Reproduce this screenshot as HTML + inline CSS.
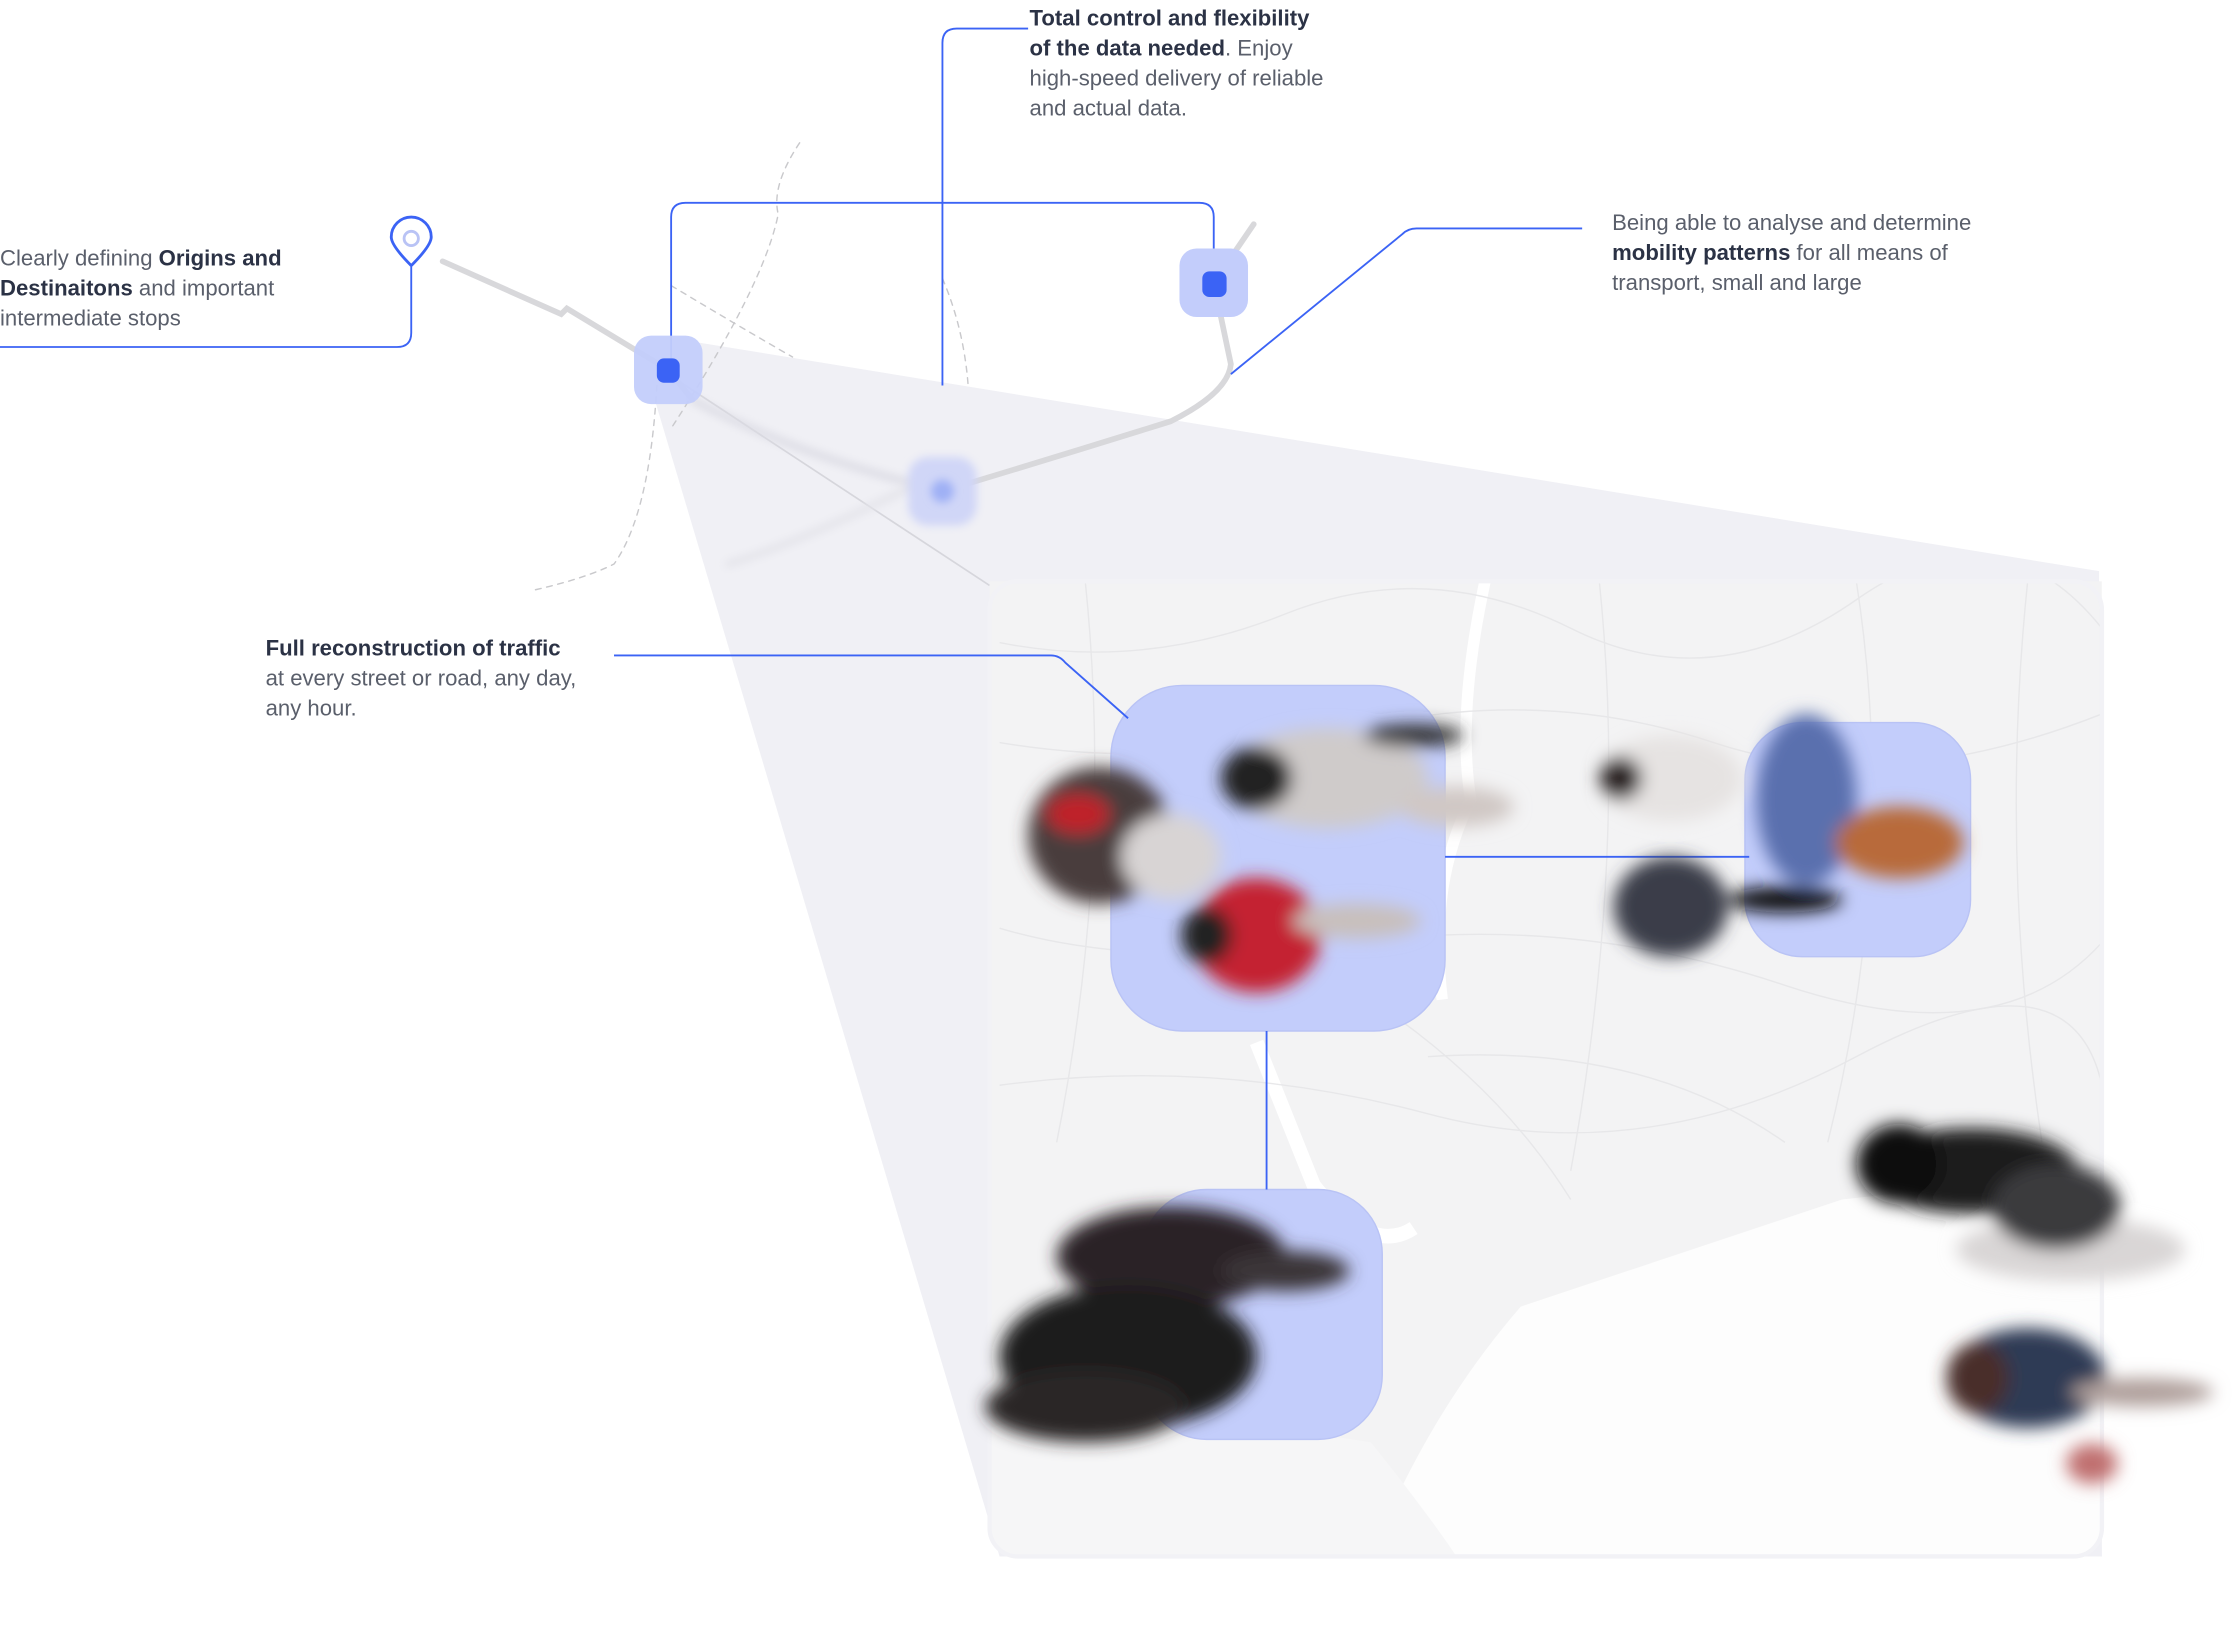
<!DOCTYPE html>
<html><head><meta charset="utf-8"><style>
html,body{margin:0;padding:0;background:#fff;width:2239px;height:1626px;overflow:hidden}
svg{display:block}
text{font-family:"Liberation Sans",sans-serif;font-size:15.5px;fill:#5a5f6b}
.b{font-weight:bold;fill:#2b3245}
</style></head><body>
<svg width="2239" height="1626" viewBox="0 0 1568 1138.7" xmlns="http://www.w3.org/2000/svg">
<defs>
<filter id="bl" x="-50%" y="-50%" width="200%" height="200%"><feGaussianBlur stdDeviation="6"/></filter>
<filter id="bl2" x="-50%" y="-50%" width="200%" height="200%"><feGaussianBlur stdDeviation="3"/></filter>
<filter id="bl3" x="-50%" y="-50%" width="200%" height="200%"><feGaussianBlur stdDeviation="12"/></filter>
<clipPath id="mc"><path d="M693 407 H1472 V1070 Q1472 1090 1452 1090 H713 Q693 1090 693 1070 Z"/></clipPath>
</defs>
<!-- cone -->
<polygon points="455,268 490,240 1470,400 1472,1090 700,1090" fill="#f0f0f5"/>
<line x1="468" y1="262" x2="693" y2="410" stroke="#d6d6dc" stroke-width="1.2"/>
<!-- map -->
<g clip-path="url(#mc)">
<rect x="693" y="407" width="779" height="683" fill="#f3f3f4"/>
<path d="M1065 915 Q1200 870 1290 840 L1472 820 V1090 H960 Q1000 990 1065 915 Z" fill="#fdfdfd"/>
<path d="M693 1000 Q760 980 830 990 L960 1010 Q1000 1060 1020 1090 H693 Z" fill="#f6f6f7"/>
<path d="M1040 407 Q1020 500 1030 560 Q1000 620 1010 700" stroke="#fff" stroke-width="8" fill="none"/>
<path d="M880 730 Q900 780 920 830 Q960 880 990 860" stroke="#fff" stroke-width="10" fill="none"/>
<g stroke="#e6e6e8" stroke-width="1" fill="none" opacity=".9">
<path d="M700 450 Q800 470 900 430 T1100 440 T1300 420 T1472 440"/>
<path d="M700 520 Q820 540 950 510 T1200 520 T1472 500"/>
<path d="M700 650 Q800 680 950 660 T1250 690 T1472 660"/>
<path d="M700 760 Q850 740 1000 780 T1300 740 T1472 760"/>
<path d="M760 407 Q780 600 740 800"/><path d="M1120 407 Q1140 600 1100 820"/>
<path d="M1300 407 Q1330 600 1280 800"/><path d="M1420 407 Q1400 600 1430 800"/>
<path d="M960 700 Q1050 760 1100 840"/><path d="M1000 740 Q1150 730 1250 800"/>
</g>
</g>
<rect x="693" y="407" width="779" height="683" rx="20" fill="none" stroke="#f2f2f6" stroke-width="3"/>
<!-- blue boxes -->
<rect x="778" y="480" width="234" height="242" rx="50" fill="#c3cdfb" stroke="#b9c3f5"/>
<rect x="1222" y="506" width="158" height="164" rx="40" fill="#c3cdfb" stroke="#b9c3f5"/>
<rect x="800" y="833" width="168" height="175" rx="45" fill="#c3cdfb" stroke="#b9c3f5"/>
<line x1="1012" y1="600" x2="1225" y2="600" stroke="#3b63f5" stroke-width="1.3"/>
<line x1="887" y1="722" x2="887" y2="833" stroke="#3b63f5" stroke-width="1.3"/>
<!-- blurry people -->
<g filter="url(#bl)">
<ellipse cx="770" cy="585" rx="50" ry="48" fill="#4a3c3c"/><ellipse cx="755" cy="570" rx="22" ry="14" fill="#c0202a"/>
<ellipse cx="820" cy="600" rx="35" ry="30" fill="#d8d4d4"/>
<ellipse cx="930" cy="545" rx="70" ry="35" fill="#cfcbca"/><ellipse cx="880" cy="545" rx="25" ry="22" fill="#222"/>
<ellipse cx="990" cy="515" rx="35" ry="8" fill="#333"/><ellipse cx="1020" cy="565" rx="40" ry="14" fill="#d0c8c5"/>
<ellipse cx="880" cy="655" rx="45" ry="40" fill="#c42430"/><ellipse cx="845" cy="655" rx="18" ry="20" fill="#222"/>
<ellipse cx="950" cy="645" rx="45" ry="12" fill="#c8bfbc"/>
<ellipse cx="1170" cy="545" rx="50" ry="30" fill="#e6e3e2"/><ellipse cx="1135" cy="545" rx="15" ry="15" fill="#2a2222"/>
<ellipse cx="1265" cy="560" rx="35" ry="60" fill="#5a6fae"/><ellipse cx="1330" cy="590" rx="45" ry="25" fill="#b86a3a"/>
<ellipse cx="1170" cy="635" rx="40" ry="35" fill="#3b3d48"/><ellipse cx="1250" cy="630" rx="40" ry="9" fill="#111"/>
<ellipse cx="820" cy="880" rx="80" ry="35" fill="#2a2426"/><ellipse cx="790" cy="950" rx="90" ry="50" fill="#1e1a1c"/>
<ellipse cx="760" cy="985" rx="70" ry="25" fill="#2b2527"/><ellipse cx="900" cy="890" rx="45" ry="14" fill="#3a3537"/>
<ellipse cx="1380" cy="820" rx="75" ry="30" fill="#1e1c1e"/><ellipse cx="1330" cy="815" rx="30" ry="28" fill="#111"/>
<ellipse cx="1450" cy="875" rx="80" ry="22" fill="#d9d6d6"/><ellipse cx="1440" cy="845" rx="45" ry="30" fill="#3a3a3e"/>
<ellipse cx="1420" cy="965" rx="55" ry="35" fill="#2f3a55"/><ellipse cx="1385" cy="965" rx="22" ry="25" fill="#4a2f2a"/>
<ellipse cx="1500" cy="975" rx="50" ry="10" fill="#b0a09c"/><ellipse cx="1465" cy="1025" rx="18" ry="14" fill="#c07070"/>
</g>
<!-- routes -->
<g fill="none" stroke-linecap="round">
<path d="M560 100 Q540 130 545 150 Q535 200 470 300" stroke="#c9c9cc" stroke-width="1" stroke-dasharray="4 4"/>
<path d="M460 270 Q455 360 430 395 Q410 405 375 413" stroke="#c9c9cc" stroke-width="1" stroke-dasharray="4 4"/>
<path d="M470 200 Q520 230 555 250" stroke="#c9c9cc" stroke-width="1" stroke-dasharray="4 4"/>
<path d="M660 195 Q675 230 678 270" stroke="#c9c9cc" stroke-width="1" stroke-dasharray="4 4"/>
<path d="M310 183 L393 220 L397 216 L468 259 L485 280" stroke="#d8d8db" stroke-width="4"/>
<path d="M485 280 Q560 320 660 344" stroke="#dcdce4" stroke-width="5" filter="url(#bl2)"/>
<path d="M660 344 Q740 320 820 295 Q860 275 862 255 L850 198 L878 157" stroke="#d8d8db" stroke-width="4"/>
<path d="M640 340 Q560 380 510 395" stroke="#e4e4ea" stroke-width="5" filter="url(#bl2)"/>
</g>
<!-- callout lines -->
<g fill="none" stroke="#3b63f5" stroke-width="1.3">
<path d="M0 243 H278 Q288 243 288 233 V187"/>
<path d="M470 259 V152 Q470 142 480 142 H840 Q850 142 850 152 V198"/>
<path d="M720 20 H670 Q660 20 660 30 V270"/>
<path d="M1108 160 H992 Q986 160 982 164 L862 262"/>
<path d="M430 459 H736 Q742 459 746 464 L790 503"/>
</g>
<line x1="660" y1="270" x2="660" y2="330" stroke="#c3cdfb" stroke-width="3" filter="url(#bl2)"/>
<!-- pin -->
<path d="M288 186 Q274 172 274 166 A14 14 0 0 1 302 166 Q302 172 288 186 Z" fill="#fff" stroke="#3b63f5" stroke-width="2"/>
<circle cx="288" cy="167" r="5" fill="none" stroke="#b9c3f5" stroke-width="2"/>
<!-- nodes -->
<rect x="444" y="235" width="48" height="48" rx="12" fill="#c3cdfb" opacity=".95"/>
<rect x="460" y="251" width="16" height="17" rx="5" fill="#3b63f5"/>
<rect x="826" y="174" width="48" height="48" rx="12" fill="#c3cdfb"/>
<rect x="842" y="190" width="17" height="18" rx="5" fill="#3b63f5"/>
<rect x="636" y="320" width="48" height="48" rx="14" fill="#d0d6f7" filter="url(#bl2)"/>
<ellipse cx="660" cy="344" rx="8" ry="8" fill="#9fb0f5" filter="url(#bl2)"/>
<!-- text -->
<text x="721" y="18"><tspan class="b">Total control and flexibility</tspan></text>
<text x="721" y="39"><tspan class="b">of the data needed</tspan>. Enjoy</text>
<text x="721" y="60">high-speed delivery of reliable</text>
<text x="721" y="81">and actual data.</text>
<text x="0" y="186">Clearly defining <tspan class="b">Origins and</tspan></text>
<text x="0" y="207"><tspan class="b">Destinaitons</tspan> and important</text>
<text x="0" y="228">intermediate stops</text>
<text x="1129" y="161">Being able to analyse and determine</text>
<text x="1129" y="182"><tspan class="b">mobility patterns</tspan> for all means of</text>
<text x="1129" y="203">transport, small and large</text>
<text x="186" y="459"><tspan class="b">Full reconstruction of traffic</tspan></text>
<text x="186" y="480">at every street or road, any day,</text>
<text x="186" y="501">any hour.</text>
</svg>
</body></html>
